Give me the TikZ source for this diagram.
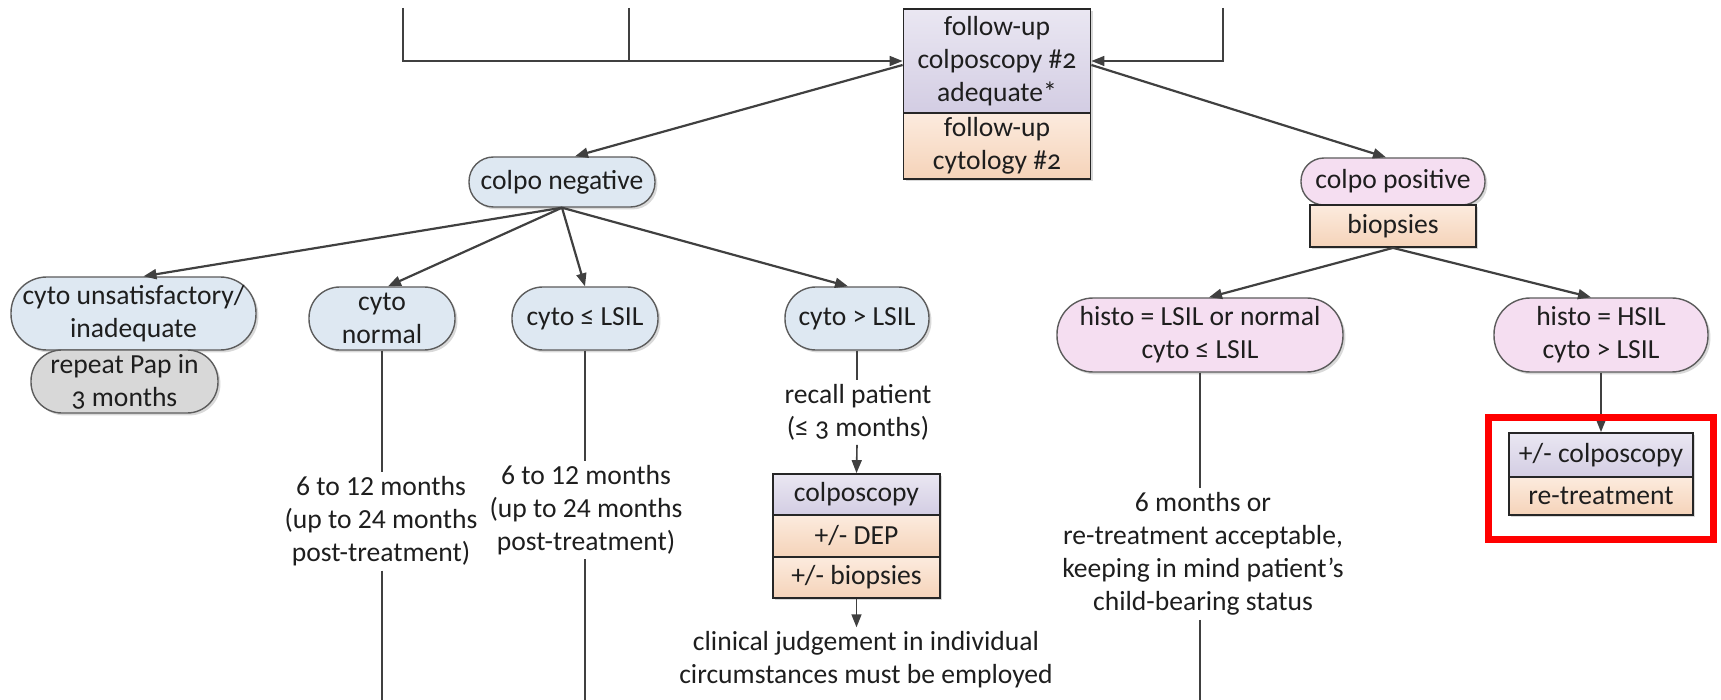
\documentclass[tikz,border=0pt]{standalone}
\usepackage{fontspec}
\setmainfont{Carlito}
\newfontfamily\osf{Carlito}[Numbers=OldStyle]
\usetikzlibrary{arrows.meta,shadows,calc}

\definecolor{lineC}{HTML}{404040}
\definecolor{edgeC}{HTML}{5C5C5C}
\definecolor{blueF}{HTML}{DEE8F2}
\definecolor{pinkF}{HTML}{F5DEF1}
\definecolor{grayF}{HTML}{D8D8D8}
\definecolor{purT}{HTML}{EAE7F2}
\definecolor{purB}{HTML}{D3CDE3}
\definecolor{orT}{HTML}{FCEBDE}
\definecolor{orB}{HTML}{F5D3B9}
\definecolor{txt}{HTML}{1E1E1E}

\begin{document}
\begin{tikzpicture}[x=0.5pt,y=-0.5pt,
  every node/.style={font=\fontsize{13.8pt}{16.5pt}\selectfont, text=txt, align=center, inner sep=1.5pt},
  shade/.style={drop shadow={shadow xshift=1.2pt, shadow yshift=-1.2pt, opacity=0.25, fill=black!60}},
  pill/.style n args={3}{draw=edgeC, line width=0.7pt, fill=#3, shade,
    minimum width=#1*0.5pt, minimum height=#2*0.5pt, inner sep=0pt,
    rounded corners=#2*0.245pt},
  bluepill/.style 2 args={pill={#1}{#2}{blueF}},
  pinkpill/.style 2 args={pill={#1}{#2}{pinkF}},
  graypill/.style 2 args={pill={#1}{#2}{grayF}},
  sqbox/.style n args={4}{draw=black!85, line width=0.9pt, top color=#3, bottom color=#4, shade,
    minimum width=#1*0.5pt, minimum height=#2*0.5pt, inner sep=0pt},
  purbox/.style 2 args={sqbox={#1}{#2}{purT}{purB}},
  orbox/.style 2 args={sqbox={#1}{#2}{orT}{orB}},
  conn/.style={draw=lineC, line width=1.1pt, -{Triangle[length=6.5pt,width=5pt]}},
  feed/.style={draw=lineC, line width=0.8pt, -{Triangle[length=6.5pt,width=5pt]}},
  vline/.style={draw=lineC, line width=0.75pt},
  note/.style={inner sep=2pt},
]
\useasboundingbox (0,0) rectangle (1721,700);

% incoming feed lines at the top
\coordinate (l1) at (403,8);
\coordinate (l2) at (629,8);
\coordinate (r1) at (1223,8);

% follow-up box
\node[purbox={187}{104}] (fuA) at (997,61) {follow-up\\colposcopy {\osf\#2}\\adequate*};
\node[orbox={187}{66}] (fuB) at (997,146) {follow-up\\cytology {\osf\#2}};

\draw[feed] (l1) |- (fuA.west);
\draw[vline, line width=0.8pt] (l2) -- (l2 |- fuA.west);
\draw[feed] (r1) |- (fuA.east);

% second level
\node[bluepill={186}{50}] (cn) at (562,182) {colpo negative};
\node[pinkpill={184}{47}] (cp) at (1393,181.5) {colpo positive};
\node[orbox={166}{42}] (bio) at (1393,226) {biopsies};

\draw[conn] ([yshift=-2pt]fuA.west) -- ([xshift=6.5pt]cn.north);
\draw[conn] ([yshift=-2pt]fuA.east) -- ([xshift=-3.5pt]cp.north);

% colpo negative branches
\node[bluepill={245}{73}] (cu) at (133.5,313.5) {cyto unsatisfactory/\\inadequate};
\node[graypill={187}{63}] (rp) at (124.5,381.5) {repeat Pap in\\{\osf 3} months};
\node[bluepill={146}{63}] (cnl) at (382,318.5) {cyto\\normal};
\node[bluepill={146}{63}] (cle) at (585,318.5) {cyto ≤ LSIL};
\node[bluepill={144}{63}] (cgt) at (857,318.5) {cyto > LSIL};

\draw[conn] (cn.south) -- ([xshift=5pt]cu.north);
\draw[conn] (cn.south) -- ([xshift=3pt]cnl.north);
\draw[conn] (cn.south) -- (cle.north);
\draw[conn] (cn.south) -- ([xshift=-4.5pt]cgt.north);

% colpo positive branches
\node[pinkpill={286}{74}] (hl) at (1200,335) {histo = LSIL or normal\\cyto ≤ LSIL};
\node[pinkpill={214}{74}] (hh) at (1601,335) {histo = HSIL\\cyto > LSIL};

\draw[conn] (bio.south) -- ([xshift=4.5pt]hl.north);
\draw[conn] (bio.south) -- ([xshift=-5pt]hh.north);

% follow-up intervals
\node[note] (t1) at (381,521.5) {6 to 12 months\\(up to 24 months\\post-treatment)};
\node[note] (t2) at (586,510) {6 to 12 months\\(up to 24 months\\post-treatment)};
\coordinate (b1) at (382,700);
\coordinate (b2) at (585,700);
\draw[vline] (cnl.south) -- (cnl.south |- t1.north);
\draw[vline] (cnl.south |- t1.south) -- (b1);
\draw[vline] (cle.south) -- (cle.south |- t2.north);
\draw[vline] (cle.south |- t2.south) -- (b2);

% cyto > LSIL path
\node[note] (rc) at (858,412.5) {recall patient\\(≤ {\osf 3} months)};
\node[purbox={167}{41}] (cb1) at (856.5,494.5) {colposcopy};
\node[orbox={167}{42}] (cb2) at (856.5,536) {+/- DEP};
\node[orbox={167}{41}] (cb3) at (856.5,577.5) {+/- biopsies};
\node[note] (cj) at (866,660) {clinical judgement in individual\\circumstances must be employed};

\draw[vline] (cgt.south) -- (cgt.south |- rc.north);
\draw[feed] (cgt.south |- rc.south) -- (cb1.north);
\draw[feed] (cb3.south) -- (cb3.south |- cj.north);

% histo = LSIL path
\node[note] (sx) at (1203,554) {6 months or\\re-treatment acceptable,\\keeping in mind patient’s\\child-bearing status};
\coordinate (b3) at (1200,700);
\draw[vline] (hl.south) -- (hl.south |- sx.north);
\draw[vline] (hl.south |- sx.south) -- (b3);

% histo = HSIL path
\node[purbox={184}{44}] (rb1) at (1601,455) {+/- colposcopy};
\node[orbox={184}{38}] (rb2) at (1601,496) {re-treatment};
\draw[feed] (hh.south) -- (rb1.north);

% highlight frame
\node[draw=red, line width=3.5pt, minimum width=225*0.5pt, minimum height=122*0.5pt, inner sep=0pt] (hlframe) at (1601,478.5) {};
\end{tikzpicture}
\end{document}
